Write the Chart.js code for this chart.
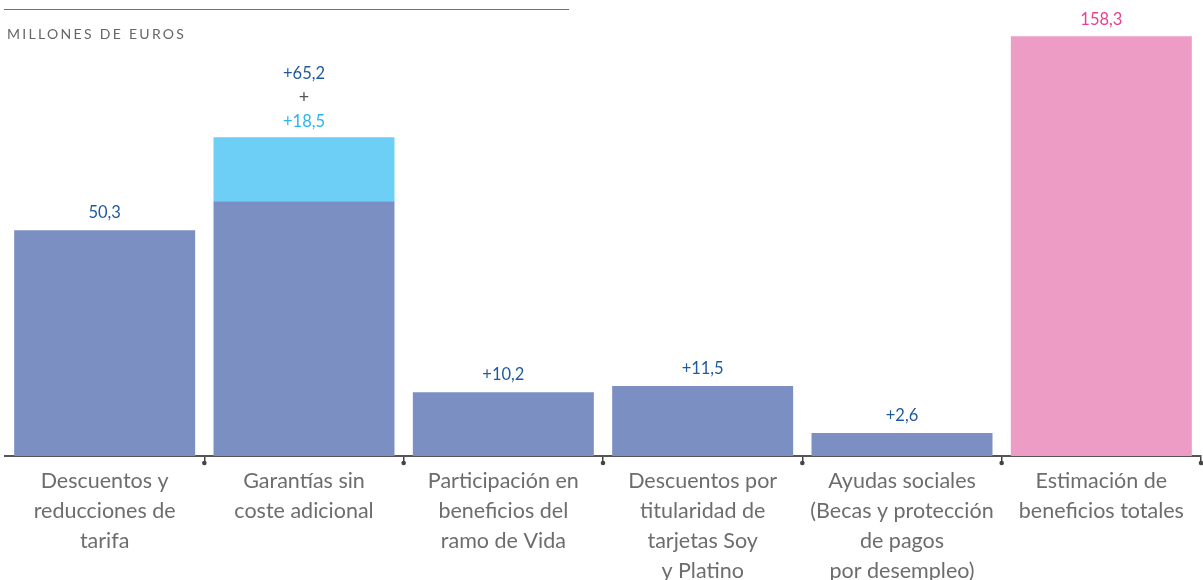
<!DOCTYPE html>
<html>
<head>
<meta charset="utf-8">
<script src="https://cdn.jsdelivr.net/npm/chart.js@4"></script>
<style>
  html, body { margin: 0; padding: 0; background: #fff; overflow: hidden; }
  #wrap { position: relative; width: 1203px; height: 589px; }
  #topline { position: absolute; left: 4px; top: 9px; width: 565px; border-top: 1.5px solid #707070; }
  #unit { position: absolute; left: 7px; top: 25px; font-family: Lato, sans-serif; font-size: 14px;
          letter-spacing: 2.3px; color: #666; }
</style>
</head>
<body>
<div id="wrap">
  <canvas id="myChart"></canvas>
  <div id="topline"></div>
  <div id="unit">MILLONES DE EUROS</div>
</div>
<script>
// categories (multi-line labels)
var categories = [
    ['Descuentos y', 'reducciones de', 'tarifa'],
    ['Garantías sin', 'coste adicional'],
    ['Participación en', 'beneficios del', 'ramo de Vida'],
    ['Descuentos por', 'titularidad de', 'tarjetas Soy', 'y Platino'],
    ['Ayudas sociales', '(Becas y protección', 'de pagos', 'por desempleo)'],
    ['Estimación de', 'beneficios totales']
];
// bar heights as drawn in the picture (not to scale with the printed numbers)
var barHeights   = [85.2, 96.1, 24.1, 26.4, 8.7, 158.3];
var extraHeights = [0, 24.1, 0, 0, 0, 0];
// printed values
var valueLabels = ['50,3', '+65,2', '+10,2', '+11,5', '+2,6', '158,3'];
var extraLabels = ['', '+18,5', '', '', '', ''];

var barColors = ['#7b8fc2', '#7b8fc2', '#7b8fc2', '#7b8fc2', '#7b8fc2', '#ed9dc5'];
var labelColors = ['#1f5a9e', '#1f5a9e', '#1f5a9e', '#1f5a9e', '#1f5a9e', '#e8408f'];

//draws the numbers above the bars
var valuePlugin = {
    id: 'values',
    afterDatasetsDraw: function(chart) {
        var ctx = chart.ctx;
        var base = chart.getDatasetMeta(0).data;
        var extra = chart.getDatasetMeta(1).data;
        ctx.save();
        ctx.font = '16.5px Lato, sans-serif';
        ctx.textAlign = 'center';
        ctx.textBaseline = 'middle';
        for (let i = 0; i < base.length; i++) {
            var x = base[i].x;
            if (extraLabels[i]) {
                var top = extra[i].y;
                ctx.fillStyle = '#29b6ec';
                ctx.fillText(extraLabels[i], x, top - 16);
                ctx.fillStyle = '#555';
                ctx.font = '18px Lato, sans-serif';
                ctx.fillText('+', x, top - 40);
                ctx.font = '16.5px Lato, sans-serif';
                ctx.fillStyle = labelColors[i];
                ctx.fillText(valueLabels[i], x, top - 64);
            } else {
                ctx.fillStyle = labelColors[i];
                ctx.fillText(valueLabels[i], x, base[i].y - 17);
            }
        }
        ctx.restore();
    }
};

//little dots at the end of the tick marks
var dotPlugin = {
    id: 'dots',
    afterDraw: function(chart) {
        var sc = chart.scales.x;
        var ctx = chart.ctx;
        var half = (sc.getPixelForTick(1) - sc.getPixelForTick(0)) / 2;
        ctx.save();
        ctx.fillStyle = '#444';
        for (let i = 0; i < categories.length; i++) {
            ctx.beginPath();
            ctx.arc(sc.getPixelForTick(i) + half, sc.top + 7, 2.3, 0, Math.PI * 2);
            ctx.fill();
        }
        ctx.restore();
    }
};

const ctx = document.getElementById('myChart').getContext('2d');
const myChart = new Chart(ctx, {
    type: 'bar',
    data: {
        labels: categories,
        datasets: [{
            data: barHeights,
            backgroundColor: barColors,
            barPercentage: 0.908,
            categoryPercentage: 1
        }, {
            data: extraHeights,
            backgroundColor: '#6dcff6',
            barPercentage: 0.908,
            categoryPercentage: 1
        }]
    },
    options: {
        responsive: true,
        maintainAspectRatio: false,
        animation: false,
        layout: { padding: { left: 5, right: 2, top: 0, bottom: 0 } },
        plugins: { legend: { display: false }, tooltip: { enabled: false } },
        scales: {
            x: {
                stacked: true,
                border: { display: true, color: '#555', width: 2 },
                grid: {
                    drawOnChartArea: false,
                    drawTicks: true,
                    tickLength: 7,
                    lineWidth: 1.5,
                    color: function(c) { return c.index === 0 ? 'rgba(0,0,0,0)' : '#444'; }
                },
                ticks: {
                    autoSkip: false,
                    maxRotation: 0,
                    padding: 3,
                    color: '#6d6d6d',
                    font: { family: 'Lato', size: 21.5, lineHeight: 1.395 }
                }
            },
            y: {
                stacked: true,
                display: false,
                min: 0,
                max: 172
            }
        }
    },
    plugins: [valuePlugin, dotPlugin]
});
</script>
</body>
</html>
